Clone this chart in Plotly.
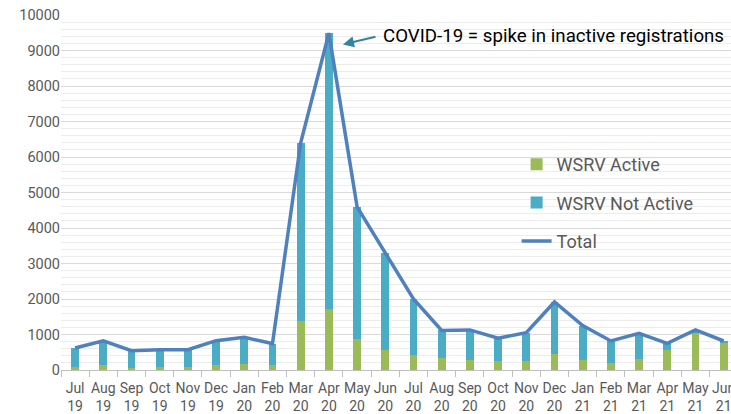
import plotly.graph_objects as go

months = ["Jul<br>19", "Aug<br>19", "Sep<br>19", "Oct<br>19", "Nov<br>19", "Dec<br>19",
          "Jan<br>20", "Feb<br>20", "Mar<br>20", "Apr<br>20", "May<br>20", "Jun<br>20",
          "Jul<br>20", "Aug<br>20", "Sep<br>20", "Oct<br>20", "Nov<br>20", "Dec<br>20",
          "Jan<br>21", "Feb<br>21", "Mar<br>21", "Apr<br>21", "May<br>21", "Jun<br>21"]

wsrv_active = [76, 132, 56, 76, 76, 132, 169, 141, 1380, 1720, 865, 563,
               423, 347, 282, 254, 254, 460, 282, 197, 319, 573, 1052, 761]
wsrv_total = [620, 820, 545, 572, 572, 826, 920, 745, 6400, 9490, 4595, 3300,
              2000, 1115, 1130, 895, 1050, 1915, 1250, 818, 1033, 752, 1127, 817]
wsrv_not_active = [t - a for t, a in zip(wsrv_total, wsrv_active)]

FONT = "Roboto, Arial, sans-serif"
GRAY = "#595959"

fig = go.Figure()
fig.add_trace(go.Bar(x=months, y=wsrv_active, name="WSRV Active",
                     marker=dict(color="#9BBB59", line=dict(width=0)),
                     legendgroup="a"))
fig.add_trace(go.Bar(x=months, y=wsrv_not_active, name="WSRV Not Active",
                     marker=dict(color="#4BACC6", line=dict(width=0)),
                     legendgroup="b"))
fig.add_trace(go.Scatter(x=months, y=wsrv_total, name="Total", mode="lines",
                         line=dict(color="#4F81BD", width=3.5),
                         legendgroup="c"))

fig.add_annotation(x=9.5, y=9170, xref="x", yref="y",
                   ax=34, ay=-8, axref="pixel", ayref="pixel",
                   text="", showarrow=True, arrowhead=2, arrowsize=1.1,
                   arrowwidth=2, arrowcolor="#31859C", standoff=0)
fig.add_annotation(x=0.478, y=9400, xref="paper", yref="y",
                   text="COVID-19 = spike in inactive registrations",
                   showarrow=False, xanchor="left", yanchor="middle",
                   font=dict(family=FONT, size=18.7, color="#000000"))

fig.update_layout(
    width=731, height=414,
    margin=dict(l=61, r=0, t=15, b=44, autoexpand=False),
    paper_bgcolor="white", plot_bgcolor="white",
    barmode="stack", bargap=0.72,
    font=dict(family=FONT, color=GRAY),
    legend=dict(x=0.68, y=0.631, xanchor="left", yanchor="top",
                bgcolor="rgba(0,0,0,0)", tracegroupgap=12,
                traceorder="grouped",
                font=dict(family=FONT, size=18, color=GRAY),
                itemwidth=30),
    xaxis=dict(range=[-0.5, 23.26], showgrid=False, showline=True,
               linecolor="#bfbfbf", linewidth=1, tickangle=0,
               ticks="outside", tickson="boundaries", ticklen=6,
               tickcolor="#bfbfbf", tickfont=dict(size=14, color=GRAY),
               ticklabelstandoff=5,
               automargin=False, fixedrange=True),
    yaxis=dict(range=[0, 10000], dtick=1000, showgrid=True, tickformat="d",
               gridcolor="#d9d9d9", gridwidth=1, zeroline=False,
               showline=False, ticks="", tickfont=dict(size=14.5, color=GRAY),
               minor=dict(dtick=200, showgrid=True, gridcolor="#ececec",
                          gridwidth=1),
               automargin=False, fixedrange=True),
)

fig.write_html("out.html", config={"displayModeBar": False},
               post_script="document.body.style.margin='0';document.body.style.overflow='hidden';")
